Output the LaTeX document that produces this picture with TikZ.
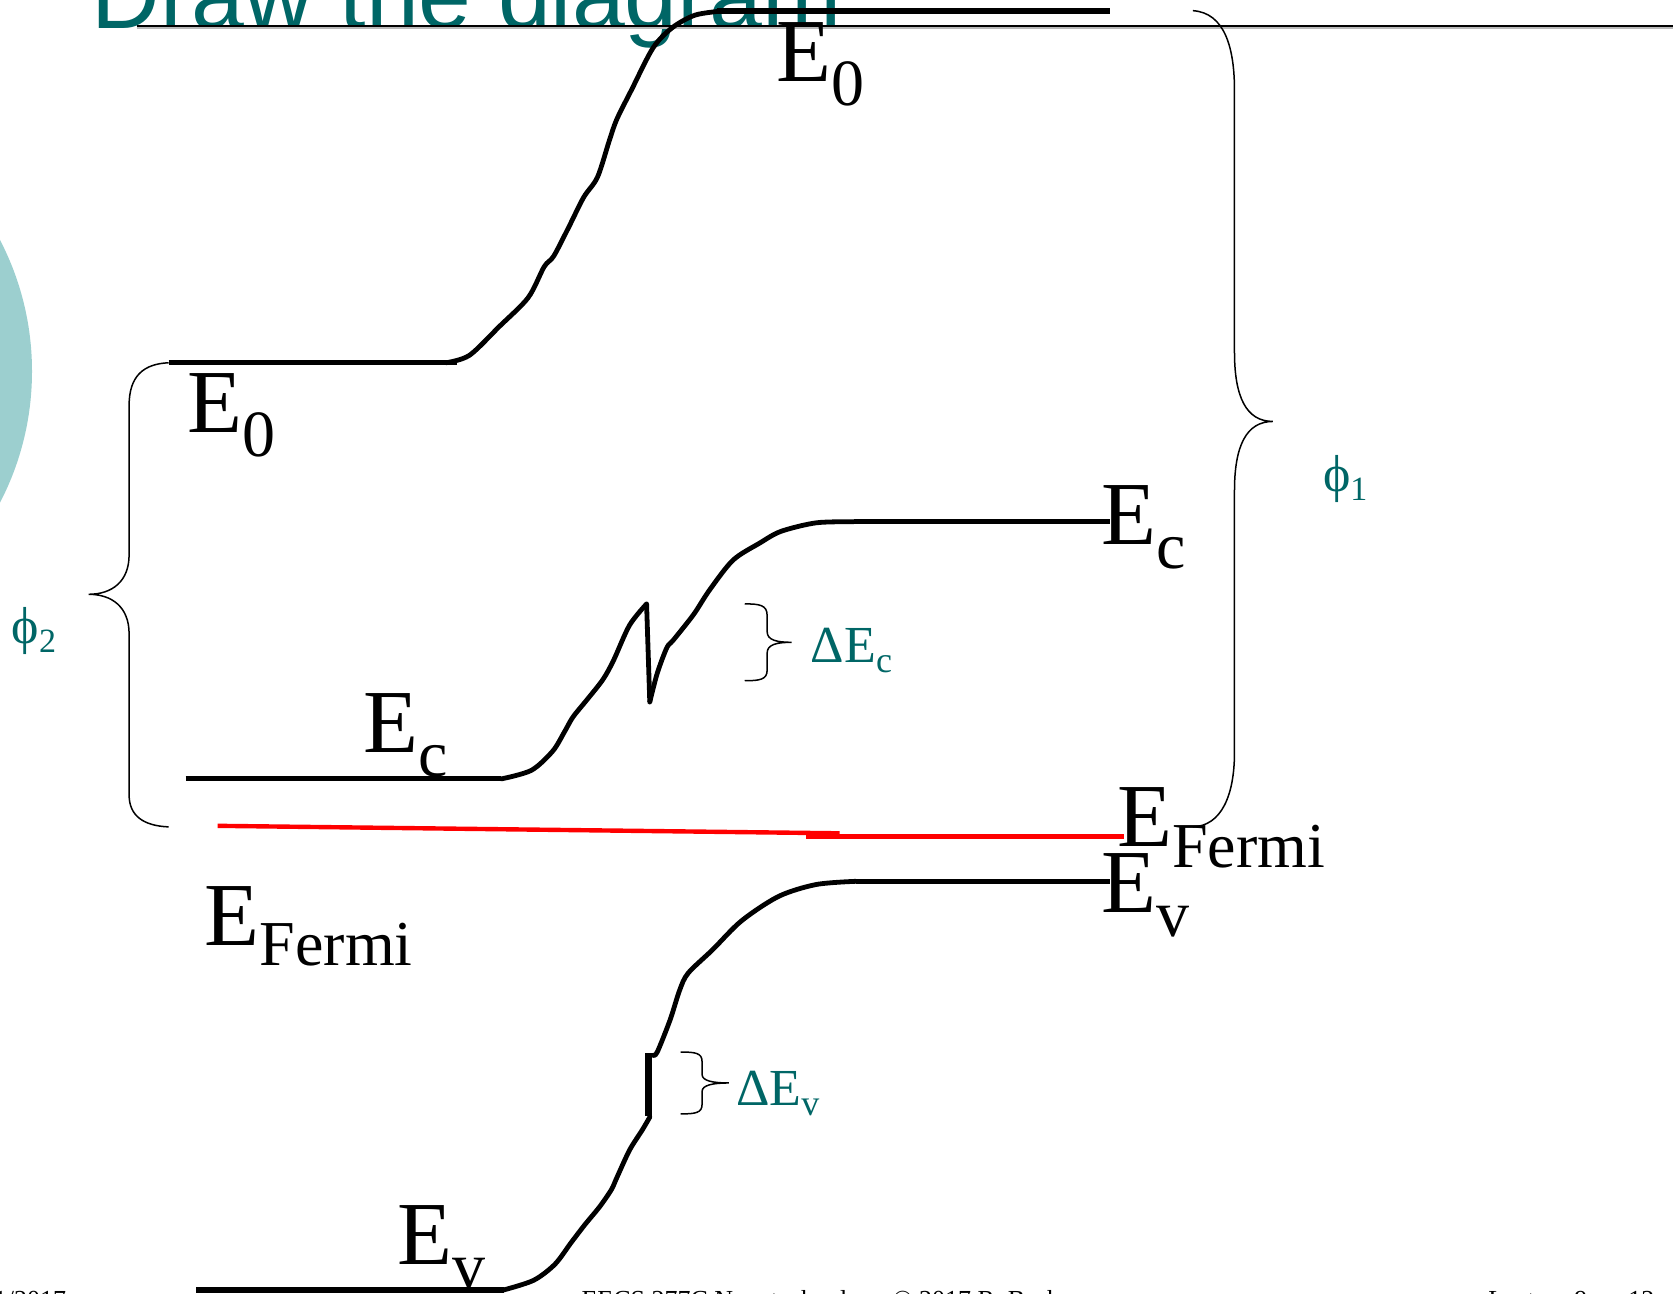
\documentclass[tikz,border=0pt]{standalone}
\usepackage{fontspec}
\setmainfont{Liberation Serif}
\newfontfamily\titlefont{Liberation Sans}
\definecolor{tealtxt}{RGB}{0,102,102}
\definecolor{circfill}{RGB}{156,207,207}
\newcommand\bigE[2][90]{{\fontsize{#1}{#1}\selectfont E\raisebox{-24pt}{\fontsize{66}{66}\selectfont #2}}}
\newcommand\tealE[1]{{\fontsize{52}{52}\selectfont ΔE\raisebox{-10pt}{\fontsize{36}{36}\selectfont #1}}}
\newcommand\phisub[1]{{\fontsize{52}{52}\selectfont ϕ\raisebox{-9pt}{\fontsize{34}{34}\selectfont #1}}}
\tikzset{
  band/.style={line width=5pt, line cap=butt},
  bandcurve/.style={line width=4.8pt, line join=round, line cap=round},
  brace/.style={line width=1.5pt},
  lbl/.style={anchor=base west, inner sep=0pt, outer sep=0pt},
  teallbl/.style={lbl, text=tealtxt},
  fermi/.style={line width=4.4pt, red}
}
\begin{document}
\begin{tikzpicture}[x=1.067pt,y=-1.067pt]
\useasboundingbox (0,0) rectangle (1568,1212);
\clip (0,0) rectangle (1568,1212);
% background decoration
\fill[circfill] (-237,348) circle[radius=267];
% title
\node[lbl, text=tealtxt, font=\titlefont\fontsize{95}{95}\selectfont] (title) at (86,27) {Draw the diagram};
\draw[gray!55, line width=2pt] (128,26.5) -- (1568,26.5);
\draw[line width=2.2pt] (128,24) -- (1568,24);
% footer (clipped)
\node[lbl, font=\fontsize{26}{26}\selectfont, anchor=base east] (f1) at (62,1226) {1/2017};
\node[lbl, font=\fontsize{26}{26}\selectfont] (f2) at (545,1226) {EECS 277C Nanotechnology © 2017 R. Burke};
\node[lbl, font=\fontsize{26}{26}\selectfont] (f3) at (1395,1226) {Lecture 9, p. 12};
% coordinates
\coordinate (E0L1) at (158,340); \coordinate (E0L2) at (428,340);
\coordinate (E0R1) at (672,10);  \coordinate (E0R2) at (1040,10);
\coordinate (EcL1) at (174,730); \coordinate (EcL2) at (470,730);
\coordinate (EcR1) at (800,489); \coordinate (EcR2) at (1040,489);
\coordinate (EvL1) at (184,1209); \coordinate (EvL2) at (472,1209);
\coordinate (EvR1) at (802,826); \coordinate (EvR2) at (1040,826);
% band lines
\draw[band] (E0L1) -- (E0L2);
\draw[band, line width=6pt] (E0R1) -- (E0R2);
\draw[band] (EcL1) -- (EcL2);
\draw[band] (EcR1) -- (EcR2);
\draw[band, line width=6.5pt] (EvL1) -- (EvL2);
\draw[band] (EvR1) -- (EvR2);
% vacuum level bend
\draw[bandcurve] plot[smooth, tension=0.5] coordinates {(418,340) (440,333) (468,306) (495,279) (510,250) (519,240) (533,213) (547,185) (560,166) (571,132) (578,112) (592,84) (612,45) (630,26) (652,14) (680,10)};
% conduction band bend with spike
\draw[bandcurve] plot[smooth, tension=0.5] coordinates {(EcL2) (498,722) (518,704) (529,686) (537,672) (550,656) (565,637) (575,619) (590,586) (606,566)};
\draw[bandcurve, line cap=butt] (606,566) -- (609,658);
\draw[bandcurve] plot[smooth, tension=0.5] coordinates {(609,658) (616,631) (625,607) (631,600) (650,576) (665,553) (687,525) (712,509) (732,498) (765,490) (EcR1)};
% valence band bend with step
\draw[bandcurve] plot[smooth, tension=0.5] coordinates {(EvL2) (500,1200) (520,1185) (535,1165) (548,1148) (562,1131) (573,1115) (578,1104) (590,1078) (602,1059) (609,1047)};
\draw[line width=6.5pt] (608,987) -- (608,1046);
\draw[bandcurve] plot[smooth, tension=0.5] coordinates {(612,989) (616,986) (628,956) (637,928) (645,912) (668,890) (695,863) (730,840) (765,829) (EvR1)};
% Fermi level
\draw[fermi] (204,774) -- (787,781);
\draw[fermi] (755,784) -- (1053,784);
% braces
\draw[brace] (1118,10) .. controls (1148,12) and (1157,45) .. (1157,85) -- (1157,330)
  .. controls (1157,372) and (1168,395) .. (1193,395)
  .. controls (1168,395) and (1157,418) .. (1157,460) -- (1157,705)
  .. controls (1157,745) and (1145,774) .. (1118,775);
\draw[brace] (158,340) .. controls (135,341) and (121,352) .. (121,380) -- (121,520)
  .. controls (121,545) and (105,557) .. (83,557)
  .. controls (105,557) and (121,569) .. (121,594) -- (121,745)
  .. controls (121,765) and (135,774) .. (158,775);
\draw[brace] (698,566) .. controls (712,566) and (719,567) .. (719,577) -- (719,592)
  .. controls (719,600) and (728,602) .. (742,602)
  .. controls (728,602) and (719,604) .. (719,612) -- (719,628)
  .. controls (719,637) and (712,638) .. (698,638);
\draw[brace] (638,986) .. controls (652,986) and (658,987) .. (658,995) -- (658,1007)
  .. controls (658,1013) and (668,1015) .. (683,1015)
  .. controls (668,1015) and (658,1017) .. (658,1023) -- (658,1035)
  .. controls (658,1043) and (652,1044) .. (638,1044);
% labels
\node[lbl] (lE0t) at (728,76) {\bigE{0}};
\node[lbl] (lE0l) at (176,405) {\bigE{0}};
\node[lbl] (lEcl) at (341,705) {\bigE{c}};
\node[lbl] (lEcr) at (1032,510) {\bigE{c}};
\node[lbl] (lEFl) at (192,886) {{\fontsize{90}{90}\selectfont E\raisebox{-20pt}{\fontsize{64}{64}\selectfont Fermi}}};
\node[lbl] (lEFr) at (1047,793) {{\fontsize{90}{90}\selectfont E\raisebox{-21pt}{\fontsize{64}{64}\selectfont Fermi}}};
\node[lbl] (lEvr) at (1032,855) {\bigE{v}};
\node[lbl] (lEvl) at (373,1185) {\bigE{v}};
\node[teallbl] (ldEc) at (760,621) {\tealE{c}};
\node[teallbl] (ldEv) at (690,1036) {\tealE{v}};
\node[teallbl] (lphi1) at (1240,461) {\phisub{1}};
\node[teallbl] (lphi2) at (11,603) {\phisub{2}};
\end{tikzpicture}
\end{document}
